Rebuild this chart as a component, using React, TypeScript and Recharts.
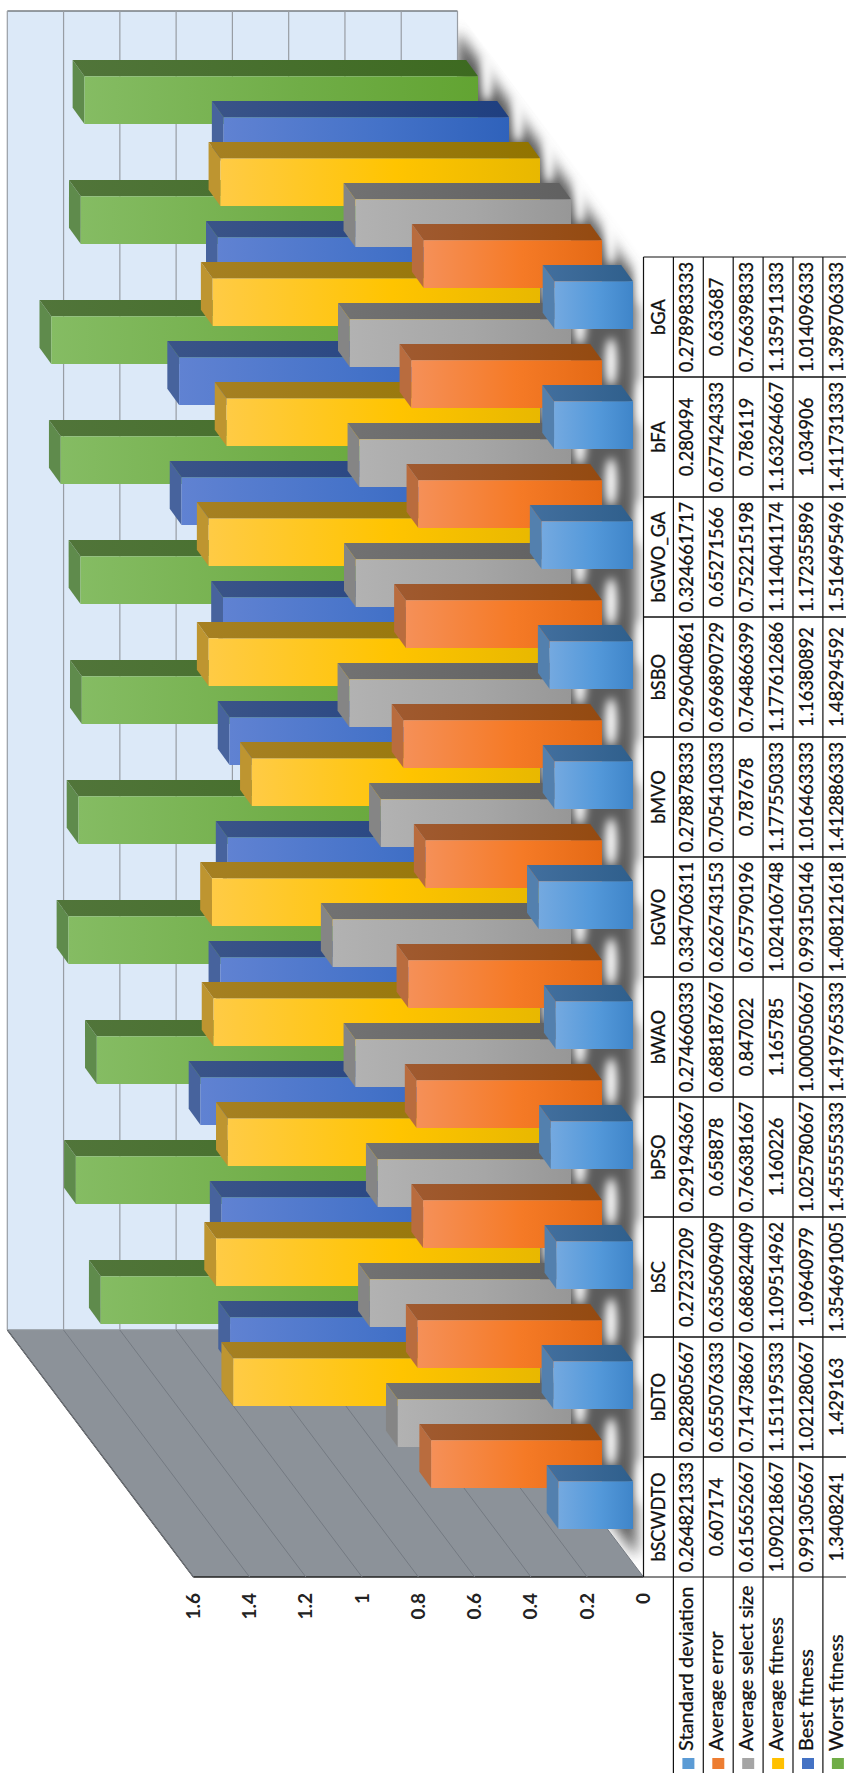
import React from "react";
import { BarChart, Bar, XAxis, YAxis, CartesianGrid } from "recharts";

const categories = ["bSCWDTO", "bDTO", "bSC", "bPSO", "bWAO", "bGWO", "bMVO", "bSBO", "bGWO_GA", "bFA", "bGA"];
const stdDeviation = ["0.264821333", "0.282805667", "0.27237209", "0.291943667", "0.274660333", "0.334706311", "0.278878333", "0.296040861", "0.324661717", "0.280494", "0.278983333"];
const avgError = ["0.607174", "0.655076333", "0.635609409", "0.658878", "0.688187667", "0.626743153", "0.705410333", "0.696890729", "0.65271566", "0.677424333", "0.633687"];
const avgSelectSize = ["0.615652667", "0.714738667", "0.686824409", "0.766381667", "0.847022", "0.675790196", "0.787678", "0.764866399", "0.752215198", "0.786119", "0.766398333"];
const avgFitness = ["1.090218667", "1.151195333", "1.109514962", "1.160226", "1.165785", "1.024106748", "1.177550333", "1.177612686", "1.114041174", "1.163264667", "1.135911333"];
const bestFitness = ["0.991305667", "1.021280667", "1.09640979", "1.025780667", "1.000050667", "0.993150146", "1.016463333", "1.16380892", "1.172355896", "1.034906", "1.014096333"];
const worstFitness = ["1.3408241", "1.429163", "1.354691005", "1.455555333", "1.419765333", "1.408121618", "1.412886333", "1.48294592", "1.516495496", "1.411731333", "1.398706333"];
const valueTicks = [0, 0.2, 0.4, 0.6, 0.8, 1, 1.2, 1.4, 1.6];

// front-to-back order, which is also the table's row order
const series = [
  { name: "Standard deviation", key: "std", values: stdDeviation, swatch: "#5b9bd5", face: ["#74a9e0", "#5499da", "#3f85c9"], side: ["#426f9e", "#2f5f8c"], end: "#5380ae" },
  { name: "Average error", key: "err", values: avgError, swatch: "#ed7d31", face: ["#f59058", "#f57a26", "#e56a15"], side: ["#a05a30", "#944a10"], end: "#b96c3e" },
  { name: "Average select size", key: "sel", values: avgSelectSize, swatch: "#a5a5a5", face: ["#b2b2b2", "#a6a6a6", "#979797"], side: ["#727272", "#606060"], end: "#858585" },
  { name: "Average fitness", key: "fit", values: avgFitness, swatch: "#ffc000", face: ["#ffcb45", "#ffc400", "#e8b800"], side: ["#a68022", "#917400"], end: "#be9530" },
  { name: "Best fitness", key: "best", values: bestFitness, swatch: "#4472c4", face: ["#6082d2", "#4472c8", "#2f62bb"], side: ["#3a5488", "#1f3f80"], end: "#47639d" },
  { name: "Worst fitness", key: "worst", values: worstFitness, swatch: "#70ad47", face: ["#85bc63", "#70ad47", "#62a432"], side: ["#51753a", "#3d6a20"], end: "#5f8b4c" },
];

const chartData = categories.map((name, i) => {
  const row: Record<string, string | number> = { name };
  series.forEach((s) => {
    row[s.key] = Number(s.values[i]);
  });
  return row;
});

const W = 1773;
const H = 846;
const FONT = "Lato, 'Open Sans', sans-serif";

// plot box is the front edge of the floor
const plot = { left: 196, right: 1516, top: 193.3, bottom: 643.5 };
// oblique shift from the front edge of the floor back to the wall
const depth = { dx: 247, dy: -186 };
const wallEnd = 1762;
// one bar's own depth, and the shift between neighbouring series
const box = { dx: 16.3, dy: -11.8, size: 47.7 };
const rowHeight = 29.9;

const pts = (list: number[][]) => list.map((p) => p.join(",")).join(" ");

function Box3D(props: any) {
  const { x, y, width, height, slot } = props;
  const s = series[slot];
  const left = x + 12 + 41 * slot;
  const top = y - 10.5 - 31 * slot;
  const bottom = top + height;
  const right = left + width;
  return (
    <g>
      <polygon
        points={pts([[left, top], [left + box.dx, top + box.dy], [right + box.dx, top + box.dy], [right, top]])}
        fill={s.end}
      />
      <polygon
        points={pts([[right, top], [right + box.dx, top + box.dy], [right + box.dx, bottom + box.dy], [right, bottom]])}
        fill={`url(#side-${s.key})`}
      />
      <rect x={left} y={top} width={width} height={height} fill={`url(#face-${s.key})`} />
    </g>
  );
}

function GridLine(props: any) {
  const { x1, y1 } = props;
  const backX = x1 + depth.dx;
  const backY = y1 + depth.dy;
  return (
    <g>
      <line x1={x1} y1={y1} x2={backX} y2={backY} stroke="#747a82" strokeWidth={1} />
      <line x1={backX} y1={backY} x2={wallEnd} y2={backY} stroke="#989da4" strokeWidth={1.2} />
    </g>
  );
}

function ValueTick(props: any) {
  const { x, y, payload } = props;
  return (
    <text x={x} y={y} dy={6.5} textAnchor="end" fontFamily={FONT} fontSize={19} fontWeight={700} fill="#222">
      {payload.value}
    </text>
  );
}

// One table column per category, hung off the category axis
function TableColumn(props: any) {
  const { x, index, payload } = props;
  const left = x - 60;
  const right = x + 60;
  const rows = series.map((s) => s.values[index]);
  return (
    <g fontFamily={FONT} fontSize={18.3} fill="#111" stroke="none">
      <line x1={left} y1={plot.bottom} x2={right} y2={plot.bottom} stroke="#111" strokeWidth={1.2} />
      <line x1={right} y1={plot.bottom} x2={right} y2={H} stroke="#111" strokeWidth={1.2} />
      <line x1={left} y1={plot.bottom} x2={left} y2={H} stroke="#111" strokeWidth={1.2} />
      <text x={x} y={plot.bottom + rowHeight / 2 + 6.5} textAnchor="middle" stroke="#111" strokeWidth={0.3}>
        {payload.value}
      </text>
      {rows.map((v, r) => {
        const rowTop = plot.bottom + rowHeight * (r + 1);
        return (
          <g key={r}>
            <line x1={left} y1={rowTop} x2={right} y2={rowTop} stroke="#111" strokeWidth={1.2} />
            <text x={x} y={rowTop + rowHeight / 2 + 5} textAnchor="middle" stroke="#111" strokeWidth={0.3}>
              {v}
            </text>
          </g>
        );
      })}
      {index === 0 &&
        series.map((s, r) => {
          const rowTop = plot.bottom + rowHeight * (r + 1);
          return (
            <g key={s.key}>
              <line x1={0} y1={rowTop} x2={left} y2={rowTop} stroke="#111" strokeWidth={1.2} />
              <rect x={4} y={rowTop + 9} width={11} height={12} fill={s.swatch} />
              <text x={22} y={rowTop + rowHeight / 2 + 5} fontSize={20} stroke="#111" strokeWidth={0.3}>
                {s.name}
              </text>
            </g>
          );
        })}
    </g>
  );
}

// Wall, floor and the soft floor shading sit in their own layer under the chart
function Backdrop() {
  const { left, right, top, bottom } = plot;
  const wall = [
    [left + depth.dx, top + depth.dy],
    [wallEnd, top + depth.dy],
    [wallEnd, bottom + depth.dy],
    [left + depth.dx, bottom + depth.dy],
  ];
  const floor = [
    [left, bottom],
    [right, bottom],
    [wallEnd, bottom + depth.dy],
    [left + depth.dx, bottom + depth.dy],
  ];
  const shade = [
    [left + 20, bottom - 7],
    [right - 20, bottom - 7],
    [wallEnd - 20, bottom + depth.dy],
    [left + depth.dx + 20, bottom + depth.dy],
  ];
  const sideWall = [
    [left, top],
    [left, bottom],
    [left + depth.dx, bottom + depth.dy],
    [left + depth.dx, top + depth.dy],
  ];
  return (
    <svg width={W} height={H} style={{ position: "absolute", left: 0, top: 0 }}>
      <defs>
        <filter id="soft" x="-20%" y="-20%" width="140%" height="140%">
          <feGaussianBlur stdDeviation="6.5" />
        </filter>
        <filter id="softer" x="-100%" y="-150%" width="300%" height="400%">
          <feGaussianBlur stdDeviation="4.5" />
        </filter>
        <clipPath id="floor-clip">
          <polygon points={pts(floor)} />
        </clipPath>
        {series.map((s) => (
          <React.Fragment key={s.key}>
            <linearGradient id={`face-${s.key}`} x1="0" y1="0" x2="0" y2="1">
              <stop offset="0" stopColor={s.face[0]} />
              <stop offset="0.55" stopColor={s.face[1]} />
              <stop offset="1" stopColor={s.face[2]} />
            </linearGradient>
            <linearGradient id={`side-${s.key}`} x1="0" y1="0" x2="0" y2="1">
              <stop offset="0" stopColor={s.side[0]} />
              <stop offset="1" stopColor={s.side[1]} />
            </linearGradient>
          </React.Fragment>
        ))}
      </defs>
      <g clipPath="url(#floor-clip)">
        <polygon points={pts(shade)} fill="#5c5c5c" filter="url(#soft)" />
        {categories.map((_, c) =>
          series.map((s, slot) => {
            const centre = plot.left + 120 * c + 60 + 12 + 41 * slot;
            const base = plot.bottom - 10.5 - 31 * slot;
            return (
              <ellipse
                key={`${c}-${s.key}`}
                cx={centre + box.size / 2 - 2}
                cy={base + 9}
                rx={24}
                ry={6}
                fill="#fff"
                filter="url(#softer)"
              />
            );
          })
        )}
      </g>
      <polygon points={pts(sideWall)} fill="#8c9299" />
      <polygon points={pts(wall)} fill="#dce9f8" />
      <line x1={wallEnd} y1={top + depth.dy} x2={wallEnd} y2={bottom + depth.dy} stroke="#777c82" strokeWidth={1.6} />
      <line x1={left + depth.dx} y1={top + depth.dy} x2={left + depth.dx} y2={bottom + depth.dy} stroke="#8f949b" strokeWidth={1.4} />
      <line x1={left} y1={top} x2={left + depth.dx} y2={top + depth.dy} stroke="#333" strokeWidth={1.2} />
      <line x1={left} y1={top} x2={left} y2={bottom} stroke="#222" strokeWidth={1.4} />
    </svg>
  );
}

export default function App() {
  return (
    <div style={{ position: "absolute", left: 0, top: 0, width: H, height: W, overflow: "hidden", background: "#fff" }}>
      <div
        style={{
          position: "absolute",
          left: 0,
          top: 0,
          width: W,
          height: H,
          transformOrigin: "0 0",
          transform: `translateY(${W}px) rotate(-90deg)`,
        }}
      >
        <Backdrop />
        <div style={{ position: "absolute", left: 0, top: 0 }}>
          <BarChart
            width={W}
            height={H}
            data={chartData}
            barSize={box.size}
            barGap={-box.size}
            margin={{ top: plot.top, right: W - plot.right, left: plot.left - 60, bottom: H - plot.bottom - 200 }}
          >
            <CartesianGrid vertical={false} horizontal={(p: any) => <GridLine key={p.index ?? p.y1} {...p} />} />
            <XAxis dataKey="name" height={200} interval={0} axisLine={false} tickLine={false} tick={(p: any) => <TableColumn {...p} />} />
            <YAxis
              width={60}
              domain={[0, 1.6]}
              ticks={valueTicks}
              axisLine={false}
              tickLine={false}
              tickMargin={10}
              tick={(p: any) => <ValueTick {...p} />}
            />
            {[...series].reverse().map((s, i) => {
              const slot = series.length - 1 - i;
              return (
                <Bar
                  key={s.key}
                  dataKey={s.key}
                  name={s.name}
                  isAnimationActive={false}
                  shape={(p: any) => <Box3D {...p} slot={slot} />}
                />
              );
            })}
          </BarChart>
        </div>
      </div>
    </div>
  );
}
